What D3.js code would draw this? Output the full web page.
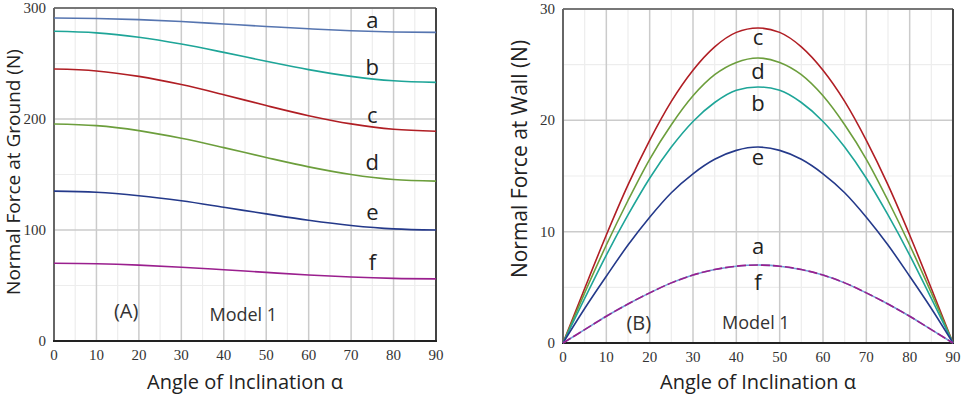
<!DOCTYPE html>
<html lang="en">
<head>
<meta charset="UTF-8">
<title>Model 1 normal forces</title>
<script src="https://d3js.org/d3.v7.min.js"></script>
<style>
    body { margin: 0; background: #fff; }
    svg { display: block; }
    .tick-label { font-family: "Liberation Serif", "DejaVu Serif", serif; font-size: 15px; fill: #333; }
    .title { font-family: "Open Sans", "Noto Sans", sans-serif; font-size: 20px; fill: #222; }
    .curve-label { font-family: "Open Sans", "Noto Sans", sans-serif; font-size: 22px; fill: #222; }
    .note { font-family: "Open Sans", "Noto Sans", sans-serif; font-size: 18px; fill: #333; }
    .tag { font-family: "Open Sans", "Noto Sans", sans-serif; font-size: 20px; fill: #333; }
</style>
</head>
<body>
<svg id="chart" width="961" height="398"></svg>
<script>
// angles (degrees)
const anglesA = [0, 10, 20, 30, 40, 50, 60, 70, 80, 90];
const anglesB = [0, 5, 10, 15, 20, 25, 30, 35, 40, 45, 50, 55, 60, 65, 70, 75, 80, 85, 90];

// panel A: normal force at ground (N)
const groundA = [291, 290.6, 289.5, 287.8, 285.6, 283.4, 281.3, 279.5, 278.4, 278];
const groundB = [279, 277.6, 273.6, 267.5, 260, 252, 244.5, 238.4, 234.4, 233];
const groundC = [245, 243.3, 238.4, 231, 221.9, 212.1, 203, 195.6, 190.7, 189];
const groundD = [195.5, 194, 189.5, 182.6, 174.2, 165.3, 156.9, 150, 145.5, 144];
const groundE = [135, 134, 130.9, 126.3, 120.5, 114.5, 108.8, 104.1, 101, 100];
const groundF = [70, 69.6, 68.4, 66.5, 64.2, 61.8, 59.5, 57.6, 56.4, 56];

// panel B: normal force at wall (N)
const wallC = [0, 4.9, 9.7, 14.2, 18.2, 21.7, 24.5, 26.6, 27.9, 28.3, 27.9, 26.6, 24.5, 21.7, 18.2, 14.2, 9.7, 4.9, 0];
const wallD = [0, 4.5, 8.8, 12.8, 16.5, 19.6, 22.2, 24.1, 25.2, 25.6, 25.2, 24.1, 22.2, 19.6, 16.5, 12.8, 8.8, 4.5, 0];
const wallB = [0, 4.0, 7.9, 11.5, 14.8, 17.6, 19.9, 21.6, 22.7, 23.0, 22.7, 21.6, 19.9, 17.6, 14.8, 11.5, 7.9, 4.0, 0];
const wallE = [0, 3.1, 6.0, 8.8, 11.3, 13.5, 15.2, 16.5, 17.3, 17.6, 17.3, 16.5, 15.2, 13.5, 11.3, 8.8, 6.0, 3.1, 0];
const wallA = [0, 1.2, 2.4, 3.5, 4.5, 5.4, 6.1, 6.6, 6.9, 7.0, 6.9, 6.6, 6.1, 5.4, 4.5, 3.5, 2.4, 1.2, 0];
const wallF = [0, 1.2, 2.4, 3.5, 4.5, 5.4, 6.1, 6.6, 6.9, 7.0, 6.9, 6.6, 6.1, 5.4, 4.5, 3.5, 2.4, 1.2, 0];

const xTicks = [0, 10, 20, 30, 40, 50, 60, 70, 80, 90];
const yTicksA = [0, 100, 200, 300];
const yTicksB = [0, 10, 20, 30];

const colors = { a: "#5675b0", b: "#1ea598", c: "#b01e24", d: "#6c9e3c", e: "#24398a", f: "#9a1f8e" };

const svg = d3.select("#chart");

function panel(opt) {
    const x = d3.scaleLinear().domain([0, 90]).range([opt.x0, opt.x1]);
    const y = d3.scaleLinear().domain([0, opt.ymax]).range([opt.y0, opt.y1]);
    const g = svg.append("g");

    // minor grid
    g.selectAll(".vminor").data(d3.range(5, 90, 10)).enter().append("line")
        .attr("x1", d => x(d)).attr("x2", d => x(d)).attr("y1", y(0)).attr("y2", y(opt.ymax))
        .attr("stroke", "#ededed").attr("stroke-width", 1.2);
    g.selectAll(".hminor").data(opt.yTicks.slice(0, -1).map(v => v + opt.ymax / 6)).enter().append("line")
        .attr("x1", x(0)).attr("x2", x(90)).attr("y1", d => y(d)).attr("y2", d => y(d))
        .attr("stroke", "#ededed").attr("stroke-width", 1.2);
    // major grid
    g.selectAll(".vmajor").data(xTicks.slice(1, -1)).enter().append("line")
        .attr("x1", d => x(d)).attr("x2", d => x(d)).attr("y1", y(0)).attr("y2", y(opt.ymax))
        .attr("stroke", "#cbcbcb").attr("stroke-width", 1.5);
    g.selectAll(".hmajor").data(opt.yTicks.slice(1, -1)).enter().append("line")
        .attr("x1", x(0)).attr("x2", x(90)).attr("y1", d => y(d)).attr("y2", d => y(d))
        .attr("stroke", "#cbcbcb").attr("stroke-width", 1.5);

    // frame
    g.append("line").attr("x1", x(0)).attr("x2", x(90)).attr("y1", y(opt.ymax)).attr("y2", y(opt.ymax))
        .attr("stroke", "#777").attr("stroke-width", 2);
    g.append("line").attr("x1", x(90)).attr("x2", x(90)).attr("y1", y(0)).attr("y2", y(opt.ymax))
        .attr("stroke", "#444").attr("stroke-width", 2);
    g.append("line").attr("x1", x(0)).attr("x2", x(0)).attr("y1", y(0)).attr("y2", y(opt.ymax))
        .attr("stroke", "#666").attr("stroke-width", 2);
    g.append("line").attr("x1", x(0) - 1).attr("x2", x(90) + 1).attr("y1", y(0)).attr("y2", y(0))
        .attr("stroke", "#222").attr("stroke-width", 2);

    // tick labels
    g.selectAll(".xt").data(xTicks).enter().append("text")
        .attr("class", "tick-label").attr("text-anchor", "middle")
        .attr("x", d => x(d)).attr("y", y(0) + 19).text(d => d);
    g.selectAll(".yt").data(opt.yTicks).enter().append("text")
        .attr("class", "tick-label").attr("text-anchor", "end")
        .attr("x", x(0) - 8).attr("y", d => y(d) + 5).text(d => d);

    // curves
    const line = d3.line().x(d => x(d[0])).y(d => y(d[1])).curve(d3.curveMonotoneX);
    opt.series.forEach(s => {
        g.append("path")
            .datum(opt.angles.map((a, i) => [a, s.values[i]]))
            .attr("fill", "none").attr("stroke", s.color).attr("stroke-width", 1.6)
            .attr("stroke-dasharray", s.dash || null)
            .attr("d", line);
    });

    // curve letters
    opt.labels.forEach(l => {
        g.append("text").attr("class", "curve-label").attr("text-anchor", "middle")
            .attr("x", x(l.at[0])).attr("y", y(l.at[1]) + 7).text(l.name);
    });

    // notes
    g.append("text").attr("class", "tag").attr("text-anchor", "middle")
        .attr("x", x(opt.tag[0])).attr("y", y(opt.tag[1]) + 7).text(opt.tag[2]);
    g.append("text").attr("class", "note").attr("text-anchor", "middle")
        .attr("x", x(opt.model[0])).attr("y", y(opt.model[1]) + 6).text("Model 1");

    // titles
    g.append("text").attr("class", "title").attr("text-anchor", "middle")
        .attr("x", (x(0) + x(90)) / 2).attr("y", 389).text("Angle of Inclination α");
    g.append("text").attr("class", "title").attr("text-anchor", opt.yAnchor)
        .style("font-size", opt.yTitleSize + "px")
        .attr("transform", `translate(${opt.yTitleX},${opt.yTitleY}) rotate(-90)`)
        .text(opt.yTitle);
}

panel({
    x0: 54, x1: 436, y0: 341, y1: 8, ymax: 300, yTicks: yTicksA, angles: anglesA,
    series: [
        { values: groundA, color: colors.a }, { values: groundB, color: colors.b },
        { values: groundC, color: colors.c }, { values: groundD, color: colors.d },
        { values: groundE, color: colors.e }, { values: groundF, color: colors.f }
    ],
    labels: [
        { name: "a", at: [75, 288] }, { name: "b", at: [75, 246] }, { name: "c", at: [75, 203] },
        { name: "d", at: [75, 160] }, { name: "e", at: [75, 115] }, { name: "f", at: [75, 70] }
    ],
    tag: [17, 27, "(A)"], model: [44.6, 23],
    yTitle: "Normal Force at Ground (N)", yTitleX: 20, yTitleY: 172, yAnchor: "middle", yTitleSize: 19
});

panel({
    x0: 563, x1: 953, y0: 343, y1: 9, ymax: 30, yTicks: yTicksB, angles: anglesB,
    series: [
        { values: wallC, color: colors.c }, { values: wallD, color: colors.d },
        { values: wallB, color: colors.b }, { values: wallE, color: colors.e },
        { values: wallA, color: "#6f9fd6" }, { values: wallF, color: colors.f, dash: "9,3" }
    ],
    labels: [
        { name: "c", at: [45, 27.4] }, { name: "d", at: [45, 24.3] }, { name: "b", at: [45, 21.5] },
        { name: "e", at: [45, 16.6] }, { name: "a", at: [45, 8.6] }, { name: "f", at: [45, 5.4] }
    ],
    tag: [17.5, 1.8, "(B)"], model: [44.5, 1.8],
    yTitle: "Normal Force at Wall (N)", yTitleX: 527, yTitleY: 159, yAnchor: "middle", yTitleSize: 21
});
</script>
</body>
</html>
